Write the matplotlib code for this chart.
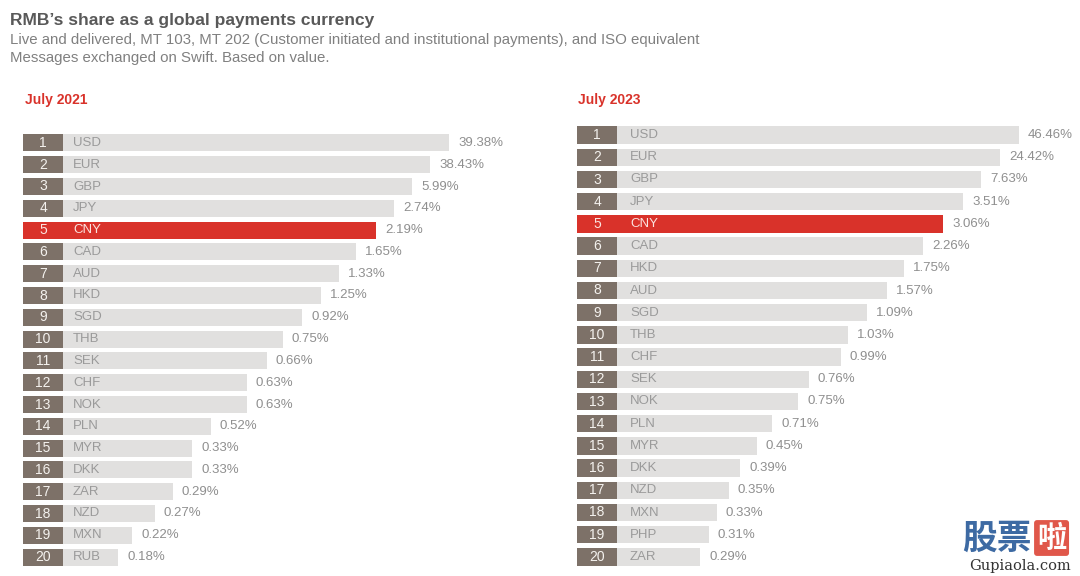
import matplotlib.pyplot as plt

plt.rcParams['font.family'] = ['Liberation Sans', 'DejaVu Sans']

RANK_COLOR = '#7d7168'
BAR_COLOR = '#e1e0df'
HIGHLIGHT = '#d9322a'
TEXT_GREY = '#8f8f8f'

# July 2021
ccy_2021 = ['USD', 'EUR', 'GBP', 'JPY', 'CNY', 'CAD', 'AUD', 'HKD', 'SGD', 'THB',
            'SEK', 'CHF', 'NOK', 'PLN', 'MYR', 'DKK', 'ZAR', 'NZD', 'MXN', 'RUB']
share_2021 = [39.38, 38.43, 5.99, 2.74, 2.19, 1.65, 1.33, 1.25, 0.92, 0.75,
              0.66, 0.63, 0.63, 0.52, 0.33, 0.33, 0.29, 0.27, 0.22, 0.18]
# bar lengths as drawn in the source graphic (not proportional to share)
len_2021 = [426, 407, 389, 371, 353, 333, 316, 298, 279, 260,
            244, 224, 224, 188, 169, 169, 150, 132, 109, 95]

# July 2023
ccy_2023 = ['USD', 'EUR', 'GBP', 'JPY', 'CNY', 'CAD', 'HKD', 'AUD', 'SGD', 'THB',
            'CHF', 'SEK', 'NOK', 'PLN', 'MYR', 'DKK', 'NZD', 'MXN', 'PHP', 'ZAR']
share_2023 = [46.46, 24.42, 7.63, 3.51, 3.06, 2.26, 1.75, 1.57, 1.09, 1.03,
              0.99, 0.76, 0.75, 0.71, 0.45, 0.39, 0.35, 0.33, 0.31, 0.29]
len_2023 = [442, 423, 404, 386, 366, 346, 327, 310, 290, 271,
            264, 232, 221, 195, 180, 163, 152, 140, 132, 123]

W, H = 1080, 576


def px_axes(fig, x0, top, width, bottom):
    ax = fig.add_axes([x0 / W, 1 - bottom / H, width / W, (bottom - top) / H])
    ax.set_xlim(0, width)
    ax.set_ylim(20.5, 0.5)
    ax.axis('off')
    return ax


def draw_panel(ax, ccys, shares, lengths, label_x):
    ranks = list(range(1, len(ccys) + 1))
    colors = [HIGHLIGHT if c == 'CNY' else BAR_COLOR for c in ccys]
    box_colors = [HIGHLIGHT if c == 'CNY' else RANK_COLOR for c in ccys]
    ax.barh(ranks, lengths, height=0.78, left=0, color=colors, linewidth=0)
    ax.barh(ranks, [40] * len(ranks), height=0.78, left=0, color=box_colors,
            linewidth=0)
    for r, c, s, l in zip(ranks, ccys, shares, lengths):
        hi = c == 'CNY'
        ax.text(20, r, str(r), ha='center', va='center', fontsize=10,
                color='#fbe3df' if hi else '#f4f1ee')
        ax.text(label_x, r, c, ha='left', va='center', fontsize=9.5,
                color='#fbe3df' if hi else '#9a9a9a')
        ax.text(l + 9, r, f'{s:.2f}%', ha='left', va='center', fontsize=9.5,
                color=TEXT_GREY)


fig = plt.figure(figsize=(W / 100, H / 100), dpi=100)

fig.text(10 / W, 1 - 20 / H, 'RMB\u2019s share as a global payments currency',
         fontsize=12.5, fontweight='bold', color='#595959', va='center')
fig.text(10 / W, 1 - 40 / H,
         'Live and delivered, MT 103, MT 202 (Customer initiated and institutional '
         'payments), and ISO equivalent',
         fontsize=10.8, color='#808080', va='center')
fig.text(10 / W, 1 - 58 / H, 'Messages exchanged on Swift. Based on value.',
         fontsize=10.8, color='#808080', va='center')
fig.text(25 / W, 1 - 100 / H, 'July 2021', fontsize=10, fontweight='bold',
         color='#d9322a', va='center')
fig.text(578 / W, 1 - 100 / H, 'July 2023', fontsize=10, fontweight='bold',
         color='#d9322a', va='center')

ax1 = px_axes(fig, 23, 132, 520, 568)
draw_panel(ax1, ccy_2021, share_2021, len_2021, 50)

ax2 = px_axes(fig, 577, 124, 500, 568)
draw_panel(ax2, ccy_2023, share_2023, len_2023, 53)

# watermark of the source page
fig.text(962 / W, 1 - 538 / H, '股票', family=['Noto Sans CJK SC'], fontsize=25,
         fontweight='bold', color='#3d6aa3', va='center')
fig.text(1037 / W, 1 - 538 / H, '啦', family=['Noto Sans CJK SC'], fontsize=21,
         fontweight='bold', color='white', va='center',
         bbox=dict(boxstyle='round,pad=0.1', fc='#e0574a', ec='none'))
fig.text(1020 / W, 1 - 566 / H, 'Gupiaola.com', family=['DejaVu Serif'],
         fontsize=10.5, color='#333333', ha='center', va='center')

fig.savefig('out.png', dpi=100)
